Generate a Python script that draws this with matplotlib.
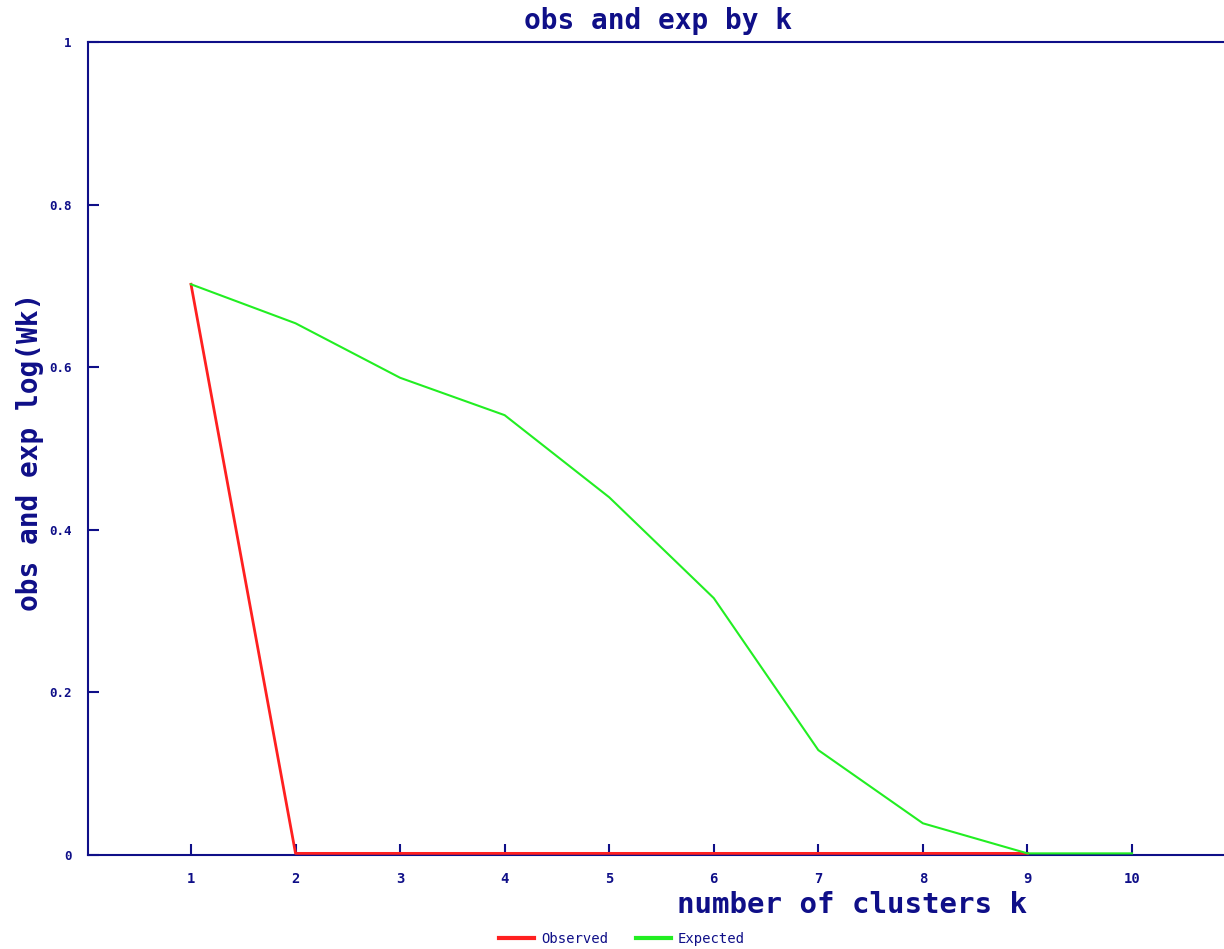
import matplotlib.pyplot as plt

# chart data
k = [1, 2, 3, 4, 5, 6, 7, 8, 9, 10]
observed = [0.702, 0.002, 0.002, 0.002, 0.002, 0.002, 0.002, 0.002, 0.002]
expected = [0.702, 0.654, 0.587, 0.541, 0.440, 0.316, 0.129, 0.039, 0.002, 0.002]
yticks = [0, 0.2, 0.4, 0.6, 0.8, 1]
yticklabels = ['0', '0.2', '0.4', '0.6', '0.8', '1']

navy = '#0f0f88'
plt.rcParams["font.family"] = 'DejaVu Sans Mono'

fig = plt.figure(figsize=(12.24, 9.49), dpi=100)
ax = fig.add_axes([88 / 1224, 1 - 855 / 949, 1 - 88 / 1224, (855 - 42) / 949])

ax.plot(k[:len(observed)], observed, color='#ff2020', lw=2, label='Observed', zorder=3)
ax.plot(k, expected, color='#22ee22', lw=1.5, label='Expected', zorder=3)

ax.set_xlim(0.015, 10.88)
ax.set_ylim(0, 1)
ax.set_xticks(k)
ax.set_yticks(yticks)
ax.set_yticklabels(yticklabels)

for side in ['left', 'bottom', 'top']:
    ax.spines[side].set_color(navy)
    ax.spines[side].set_linewidth(1.5)
ax.spines['right'].set_visible(False)

ax.tick_params(axis='both', direction='in', colors=navy, length=8, width=1.5,
               labelsize=9)
ax.tick_params(axis='x', pad=12, labelsize=10)
ax.tick_params(axis='y', pad=12)
for lab in ax.get_xticklabels() + ax.get_yticklabels():
    lab.set_fontweight('bold')

fig.text(658 / 1224, 1 - 21 / 949, 'obs and exp by k', ha='center', va='center',
         color=navy, fontsize=20, fontweight='bold')
fig.text(30 / 1224, 1 - 452 / 949, 'obs and exp log(Wk)', ha='center', va='center',
         rotation=90, color=navy, fontsize=20, fontweight='bold')
fig.text(852 / 1224, 1 - 905 / 949, 'number of clusters k', ha='center', va='center',
         color=navy, fontsize=21, fontweight='bold')

leg = fig.legend(loc='center', bbox_to_anchor=(622 / 1224, 1 - 939 / 949), ncol=2,
                 frameon=False, fontsize=10, handlelength=2.5, columnspacing=2,
                 handletextpad=0.5)
for t in leg.get_texts():
    t.set_color(navy)
for h in leg.get_lines():
    h.set_linewidth(3)

fig.savefig('out.png', dpi=100)
